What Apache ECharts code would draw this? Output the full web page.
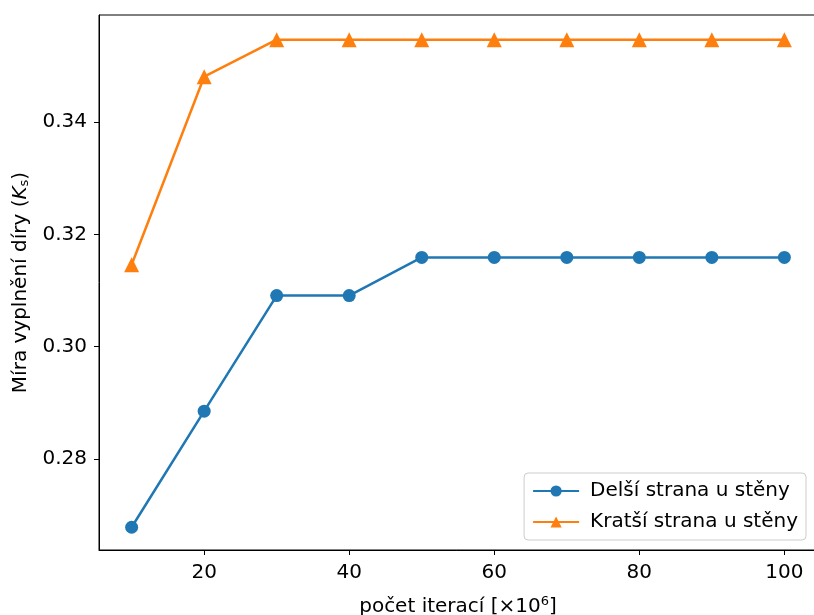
<!DOCTYPE html>
<html>
<head>
<meta charset="utf-8">
<script src="https://cdn.jsdelivr.net/npm/echarts@6/dist/echarts.min.js"></script>
<style>
  html, body { margin: 0; padding: 0; background: #fff; overflow: hidden; }
  #chart { width: 814px; height: 615px; }
</style>
</head>
<body>
<div id="chart"></div>
<script>
const iterations = [10, 20, 30, 40, 50, 60, 70, 80, 90, 100];
const delsiStrana = [0.2678, 0.2885, 0.3091, 0.3091, 0.3159, 0.3159, 0.3159, 0.3159, 0.3159, 0.3159];
const kratsiStrana = [0.3146, 0.3481, 0.3547, 0.3547, 0.3547, 0.3547, 0.3547, 0.3547, 0.3547, 0.3547];
const xTicks = [20, 40, 60, 80, 100];
const yTicks = [0.28, 0.30, 0.32, 0.34];

const font = 'DejaVu Sans';
const fs = 20;
const chart = echarts.init(document.getElementById('chart'));

const pairs = (ys) => iterations.map((x, i) => [x, ys[i]]);

chart.setOption({
  animation: false,
  backgroundColor: '#fff',
  textStyle: { fontFamily: font },
  grid: {
    left: 99, width: 718, top: 15, height: 535,
    containLabel: false, outerBoundsMode: 'none',
    show: true, borderColor: '#000', borderWidth: 1
  },
  legend: {
    right: 8, bottom: 75,
    orient: 'vertical',
    itemWidth: 46, itemHeight: 14, itemGap: 11,
    padding: [8, 8, 8, 8],
    borderColor: '#ccc', borderWidth: 1, borderRadius: 4,
    backgroundColor: 'rgba(255,255,255,0.8)',
    textStyle: { fontFamily: font, fontSize: fs, color: '#000', padding: [0, 0, 0, 6] },
    data: ['Delší strana u stěny', 'Kratší strana u stěny']
  },
  xAxis: {
    type: 'value',
    min: 5.5, max: 104.5,
    name: 'počet iterací [×10{sup|6}]',
    nameLocation: 'middle', nameGap: 45,
    nameTextStyle: {
      fontFamily: font, fontSize: fs, color: '#000',
      rich: { sup: { fontSize: 13, verticalAlign: 'top', padding: [0, 0, 10, 0], fontFamily: font, color: '#000' } }
    },
    splitLine: { show: false },
    axisLine: { lineStyle: { color: '#000' } },
    axisTick: { show: true, inside: false, length: 5, lineStyle: { color: '#000' }, customValues: xTicks },
    axisLabel: { fontFamily: font, fontSize: fs, color: '#000', margin: 13, customValues: xTicks }
  },
  yAxis: {
    type: 'value',
    min: 0.26375, max: 0.3591,
    name: 'Míra vyplnění díry ({k|K}{sub|s})',
    nameLocation: 'middle', nameGap: 66, nameRotate: 90,
    nameTextStyle: {
      fontFamily: font, fontSize: fs, color: '#000',
      rich: {
        k: { fontStyle: 'italic', fontSize: fs, fontFamily: font, color: '#000' },
        sub: { fontSize: 13, verticalAlign: 'bottom', padding: [8, 0, 0, 0], fontFamily: font, color: '#000' }
      }
    },
    splitLine: { show: false },
    axisLine: { show: true, lineStyle: { color: '#000' } },
    axisTick: { show: true, inside: false, length: 5, lineStyle: { color: '#000' }, customValues: yTicks },
    axisLabel: {
      fontFamily: font, fontSize: fs, color: '#000', margin: 12,
      customValues: yTicks,
      formatter: (v) => v.toFixed(2)
    }
  },
  series: [
    {
      name: 'Delší strana u stěny',
      type: 'line',
      data: pairs(delsiStrana),
      symbol: 'circle', symbolSize: 13,
      lineStyle: { color: '#1f77b4', width: 2.5 },
      itemStyle: { color: '#1f77b4' }
    },
    {
      name: 'Kratší strana u stěny',
      type: 'line',
      data: pairs(kratsiStrana),
      symbol: 'triangle', symbolSize: 15,
      lineStyle: { color: '#ff7f0e', width: 2.5 },
      itemStyle: { color: '#ff7f0e' }
    }
  ]
});
</script>
</body>
</html>
